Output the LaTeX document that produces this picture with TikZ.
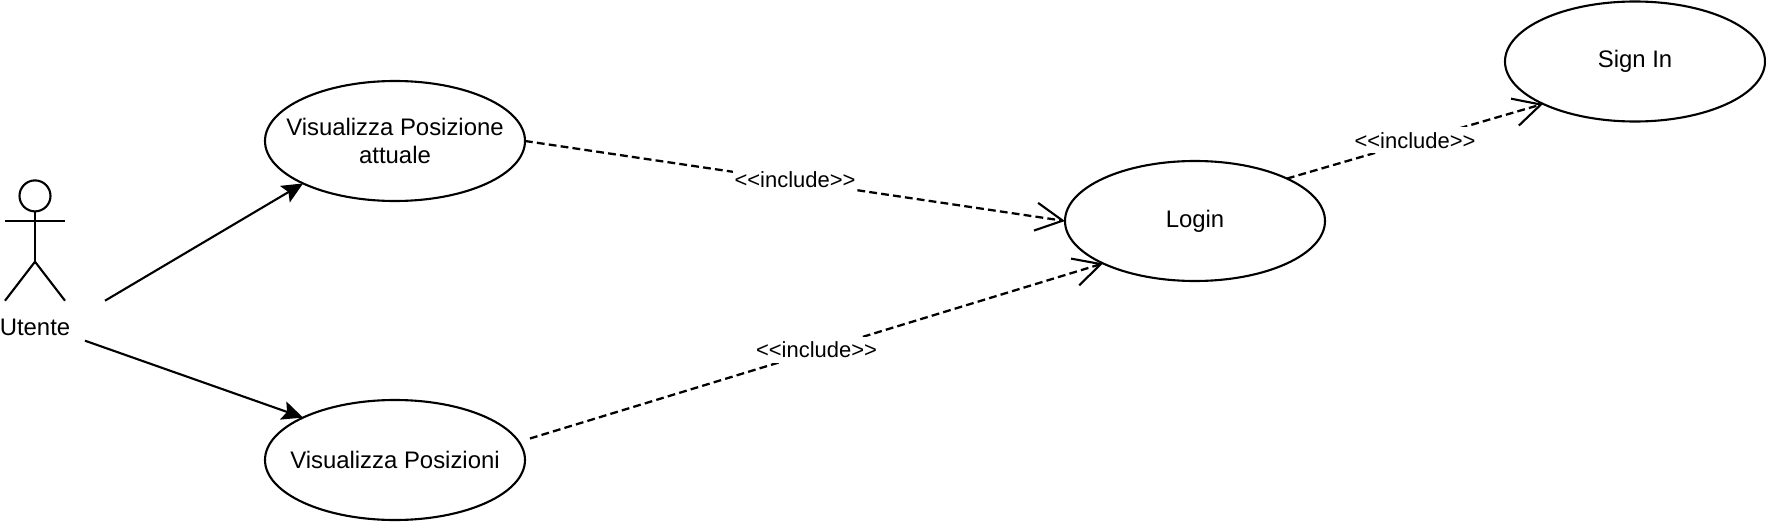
\documentclass[tikz,border=0pt]{standalone}
\usepackage{fontspec}
\setmainfont{Liberation Sans}
\usetikzlibrary{arrows.meta,shapes.geometric}
\tikzset{
	usecase/.style={draw, ellipse, line width=0.6pt, minimum width=2.6cm, minimum height=1.2cm, inner xsep=-0.4cm, inner ysep=0pt, outer sep=0pt, align=center, font=\fontsize{6.8}{8.2}\selectfont},
	assoc/.style={line width=0.6pt, -{Stealth[length=0.21cm, width=0.19cm, inset=0.04cm]}},
	incl/.style={line width=0.65pt, dash pattern=on 0.078cm off 0.042cm, -{Straight Barb[length=0.27cm, width=0.28cm, line width=0.6pt]}},
	incllabel/.style={fill=white, inner xsep=0.5pt, inner ysep=0pt, minimum height=0.26cm, yshift=0.01cm, font=\fontsize{6.25}{7.5}\selectfont}
}
\begin{document}
\begin{tikzpicture}
		\useasboundingbox (0, 0) rectangle (17.66, 5.22);
		
		\node [usecase] (attuale) at (3.95, 3.81) {Visualizza Posizione\\attuale};
		\node [usecase] (posizioni) at (3.95, 0.62) {Visualizza Posizioni};
		\node [usecase] (login) at (11.95, 3.01) {Login};
		\node [usecase] (signin) at (16.35, 4.605) {Sign In};
		
		% actor
		\node [draw, circle, line width=0.6pt, minimum size=0.31cm, inner sep=0pt, outer sep=0pt] (head) at (0.35, 3.261) {};
		\coordinate (hip) at (0.35, 2.603);
		\coordinate (shoulderL) at (0.05, 3.013);
		\coordinate (shoulderR) at (0.65, 3.013);
		\coordinate (footL) at (0.05, 2.213);
		\coordinate (footR) at (0.65, 2.213);
		\draw [line width=0.6pt] (head) -- (hip);
		\draw [line width=0.6pt] (shoulderL) -- (shoulderR);
		\draw [line width=0.6pt] (footL) -- (hip) -- (footR);
		\node [font=\fontsize{6.8}{8.2}\selectfont, inner sep=0pt] (utente) at (0.35, 1.943) {Utente};
		
		\coordinate (utenteA) at (1.05, 2.213);
		\coordinate (utenteB) at (0.85, 1.813);
		\coordinate (posizioniE) at (5.30, 0.835);
		
		\draw [assoc] (utenteA) -- (attuale.south west);
		\draw [assoc] (utenteB) -- (posizioni.north west);
		
		\draw [incl] (attuale.east) -- node [incllabel] {<{}<include>{}>} (login.west);
		\draw [incl] (posizioniE) -- node [incllabel] {<{}<include>{}>} (login.south west);
		\draw [incl] (login.north east) -- node [incllabel] {<{}<include>{}>} (signin.south west); 
	\end{tikzpicture}
\end{document}
